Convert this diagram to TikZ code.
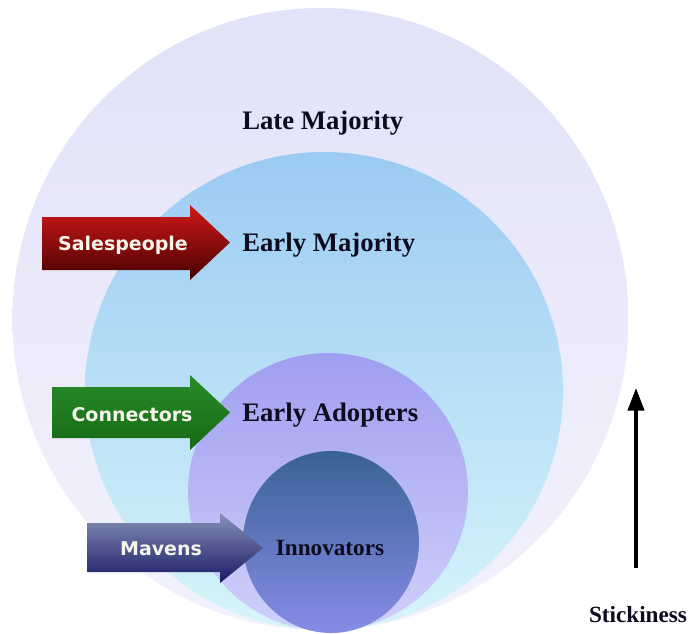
\documentclass[tikz,border=0pt]{standalone}
\usepackage{fontspec}
\setmainfont{Liberation Serif}
\newfontfamily\arrowfont{DejaVu Sans}
\usetikzlibrary{arrows.meta}

\definecolor{lateTop}{RGB}{226,226,248}
\definecolor{lateBot}{RGB}{242,242,253}
\definecolor{earlyTop}{RGB}{155,202,242}
\definecolor{earlyBot}{RGB}{214,245,250}
\definecolor{adoptTop}{RGB}{160,158,240}
\definecolor{adoptBot}{RGB}{208,208,251}
\definecolor{innovTop}{RGB}{58,98,150}
\definecolor{innovBot}{RGB}{135,140,230}
\definecolor{labelink}{RGB}{12,12,30}
\definecolor{arrowink}{RGB}{245,245,235}

\tikzset{
  circlabel/.style={font=\bfseries\fontsize{19}{22}\selectfont,text=labelink,inner sep=0pt,anchor=base west},
  smalllabel/.style={font=\bfseries\fontsize{16.5}{20}\selectfont,text=labelink,inner sep=0pt,anchor=base},
  arrowlabel/.style={font=\arrowfont\bfseries\fontsize{13.5}{16}\selectfont,text=arrowink,inner sep=0pt,anchor=base},
}

\begin{document}
\begin{tikzpicture}[x=0.025cm,y=-0.025cm]
\fill[white] (0,0) rectangle (694,633);
\useasboundingbox (0,0) rectangle (694,633);

% nested groups, all resting on the bottom edge
\shade[top color=lateTop,bottom color=lateBot] (320.5,319) ellipse [x radius=308,y radius=311];
\shade[top color=earlyTop,bottom color=earlyBot] (324,391) ellipse [x radius=239,y radius=239];
\shade[top color=adoptTop,bottom color=adoptBot] (328,492) ellipse [x radius=140,y radius=139];
\shade[top color=innovTop,bottom color=innovBot] (331,542) ellipse [x radius=88,y radius=91];

\node[circlabel] (late) at (242,129) {Late Majority};
\node[circlabel] (early) at (242,251) {Early Majority};
\node[circlabel] (adopt) at (242,421) {Early Adopters};
\node[smalllabel] (innov) at (330,555) {Innovators};

% block arrows
\shade[top color={rgb,255:red,210;green,25;blue,25},middle color={rgb,255:red,165;green,0;blue,5},bottom color={rgb,255:red,70;green,0;blue,0}]
  (42,217) -- (190,217) -- (190,205) -- (230,242.5) -- (190,280) -- (190,270) -- (42,270) -- cycle;
\shade[top color={rgb,255:red,40;green,140;blue,40},bottom color={rgb,255:red,22;green,105;blue,22}]
  (52,387) -- (190,387) -- (190,375) -- (230,412.5) -- (190,450) -- (190,438) -- (52,438) -- cycle;
\shade[top color={rgb,255:red,135;green,145;blue,185},bottom color={rgb,255:red,25;green,25;blue,100}]
  (87,523) -- (220,523) -- (220,513) -- (263,548) -- (220,583) -- (220,572) -- (87,572) -- cycle;

\node[arrowlabel] (sales) at (123,250) {Salespeople};
\node[arrowlabel] (conn) at (132,421) {Connectors};
\node[arrowlabel] (mavens) at (161,555) {Mavens};

% stickiness axis
\coordinate (stickBot) at (636,568);
\coordinate (stickTop) at (636,388);
\draw[line width=2.4pt,-{Triangle[length=16pt,width=11.5pt]}] (stickBot) -- (stickTop);
\node[smalllabel] (stick) at (638,622) {Stickiness};

\end{tikzpicture}
\end{document}
